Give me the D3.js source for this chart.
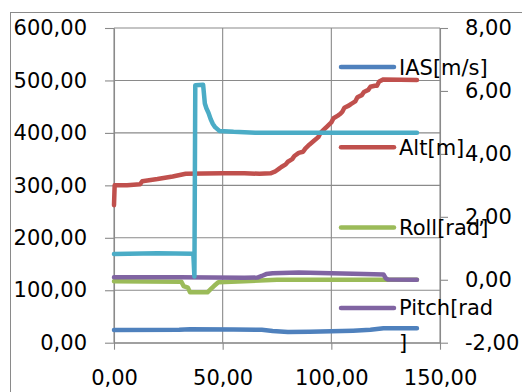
<!DOCTYPE html>
<html>
<head>
<meta charset="utf-8">
<script src="https://cdn.jsdelivr.net/npm/d3@7"></script>
<style>
  body { margin: 0; background: #fff; }
  svg { display: block; }
  text { font-family: "DejaVu Sans", sans-serif; fill: #000; }
</style>
</head>
<body>
<svg id="chart" width="522" height="392"></svg>
<script>
// ---- data: flight log, time on x ----
const xTicks = [0, 50, 100, 150];
const leftTicks = [0, 100, 200, 300, 400, 500, 600];
const rightTicks = [-2, 0, 2, 4, 6, 8];

// IAS [m/s] (left axis)
const iasData = [[0,24],[30,24.5],[35,25.5],[55,25],[68,24.5],[73,22.5],[80,20.5],[90,21],[100,22],[110,23],[118,24.5],[124,27.5],[139.4,27.5]];

// Alt [m] (left axis)
const altData = [[0,262],[0.3,300],[6,300],[12,302],[13,308],[20,312],[27,317],[33,322],[50,323],[60,323],[67,322],[72,323],[74,326],[76,332],[77,335],[79,340],[80,345],[82,350],[83,356],[85,362],[87,364],[88,370],[90,378],[92,385],[94,392],[95,400],[97,408],[98,412],[100,420],[101,428],[103,433],[104,436],[105,440],[106,448],[108,452],[109,455],[111,460],[112,468],[114,472],[115,478],[117,482],[118,488],[120,490],[121,490],[122,498],[124,502],[139.4,501]];

// Roll [rad] (right axis)
const rollData = [[0,-0.05],[31,-0.06],[32,-0.2],[34,-0.25],[35,-0.4],[43,-0.4],[44.5,-0.3],[46,-0.2],[48,-0.08],[60,-0.05],[75,0],[125,0],[139.4,0]];

// Pitch [rad] (right axis)
const pitchData = [[0,0.08],[30,0.08],[45,0.07],[60,0.06],[66,0.07],[68,0.12],[70,0.18],[73,0.21],[85,0.23],[100,0.21],[115,0.18],[124,0.17],[125,0.05],[126,0.01],[139.4,0]];

// Yaw [rad] (right axis)
const yawData = [[0,0.82],[20,0.84],[36.5,0.83],[37,0.1],[37.4,6.18],[41,6.2],[41.8,5.6],[42.5,5.45],[43.5,5.3],[44.5,5.1],[45.5,4.95],[46.5,4.85],[48.5,4.73],[55,4.7],[65,4.67],[139.4,4.67]];

const seriesNames = ["IAS[m/s]", "Alt[m]", "Roll[rad]", "Pitch[rad]", "Yaw[rad]"];
const seriesColors = ["#4F81BD", "#C0504D", "#9BBB59", "#8064A2", "#4BACC6"];
const legendShown = 4;

// ---- layout ----
const svg = d3.select("#chart");
const plot = { left: 114, right: 440, top: 28, bottom: 342.7 };
const grid = "#8a8a8a";
const fontSize = 21;

const locale = d3.formatLocale({ decimal: ",", thousands: ".", grouping: [3], currency: ["", ""], minus: "-" });
const fmt = locale.format(".2f");

const x = d3.scaleLinear().domain([0, 150]).range([plot.left, plot.right]);
const yL = d3.scaleLinear().domain([0, 600]).range([plot.bottom, plot.top]);
const yR = d3.scaleLinear().domain([-2, 8]).range([plot.bottom, plot.top]);

// outer chart frame
svg.append("rect")
  .attr("x", 10.5).attr("y", 12.5).attr("width", 620).attr("height", 500)
  .attr("fill", "none").attr("stroke", grid).attr("stroke-width", 1);

// gridlines
svg.append("g").selectAll("line").data(leftTicks).join("line")
  .attr("x1", plot.left).attr("x2", plot.right)
  .attr("y1", d => yL(d)).attr("y2", d => yL(d))
  .attr("stroke", grid).attr("stroke-width", 1.1);
svg.append("g").selectAll("line").data(xTicks).join("line")
  .attr("x1", d => x(d)).attr("x2", d => x(d))
  .attr("y1", plot.top).attr("y2", plot.bottom)
  .attr("stroke", grid).attr("stroke-width", 1.1);

function styleAxis(g) {
  g.select(".domain").attr("stroke", grid).attr("stroke-width", 1.1);
  g.selectAll(".tick line").attr("stroke", grid).attr("stroke-width", 1.1);
  g.selectAll(".tick text").attr("font-size", fontSize).attr("font-family", "DejaVu Sans").attr("fill", "#000");
}

svg.append("g").attr("transform", `translate(${plot.left},0)`)
  .call(d3.axisLeft(yL).tickValues(leftTicks).tickFormat(fmt).tickSize(9).tickSizeOuter(0).tickPadding(18))
  .call(styleAxis);

svg.append("g").attr("transform", `translate(${plot.right},0)`)
  .call(d3.axisRight(yR).tickValues(rightTicks).tickFormat(fmt).tickSize(8).tickSizeOuter(0).tickPadding(17))
  .call(styleAxis);

svg.append("g").attr("transform", `translate(0,${plot.bottom})`)
  .call(d3.axisBottom(x).tickValues(xTicks).tickFormat(fmt).tickSize(7).tickSizeOuter(0).tickPadding(20))
  .call(styleAxis);

// series lines
const series = [
  { data: iasData, y: yL },
  { data: altData, y: yL },
  { data: rollData, y: yR },
  { data: pitchData, y: yR },
  { data: yawData, y: yR }
];

series.forEach((s, i) => {
  const line = d3.line().x(d => x(d[0])).y(d => s.y(d[1]));
  svg.append("path")
    .attr("d", line(s.data))
    .attr("fill", "none")
    .attr("stroke", seriesColors[i])
    .attr("stroke-width", 4.5)
    .attr("stroke-linejoin", "round")
    .attr("stroke-linecap", "round");
});

// legend (right side, over the plot)
const legend = svg.append("g");
const legX = 341, legLineLen = 53, legTextX = 399, legTop = 67, legStep = 80.3, maxTextW = 97;

seriesNames.slice(0, legendShown).forEach((name, i) => {
  const cy = legTop + i * legStep;
  legend.append("line")
    .attr("x1", legX).attr("x2", legX + legLineLen)
    .attr("y1", cy).attr("y2", cy)
    .attr("stroke", seriesColors[i]).attr("stroke-width", 4.5)
    .attr("stroke-linecap", "round");

  // wrap label onto a second line when it is too wide
  const t = legend.append("text")
    .attr("x", legTextX).attr("y", cy).attr("dy", "0.36em")
    .attr("font-size", fontSize).text(name);
  if (t.node().getComputedTextLength() > maxTextW) {
    let cut = name.length;
    while (cut > 1) {
      cut--;
      t.text(name.slice(0, cut));
      if (t.node().getComputedTextLength() <= maxTextW) break;
    }
    legend.append("text")
      .attr("x", legTextX).attr("y", cy + 35).attr("dy", "0.36em")
      .attr("font-size", fontSize).text(name.slice(cut));
  }
});
</script>
</body>
</html>
